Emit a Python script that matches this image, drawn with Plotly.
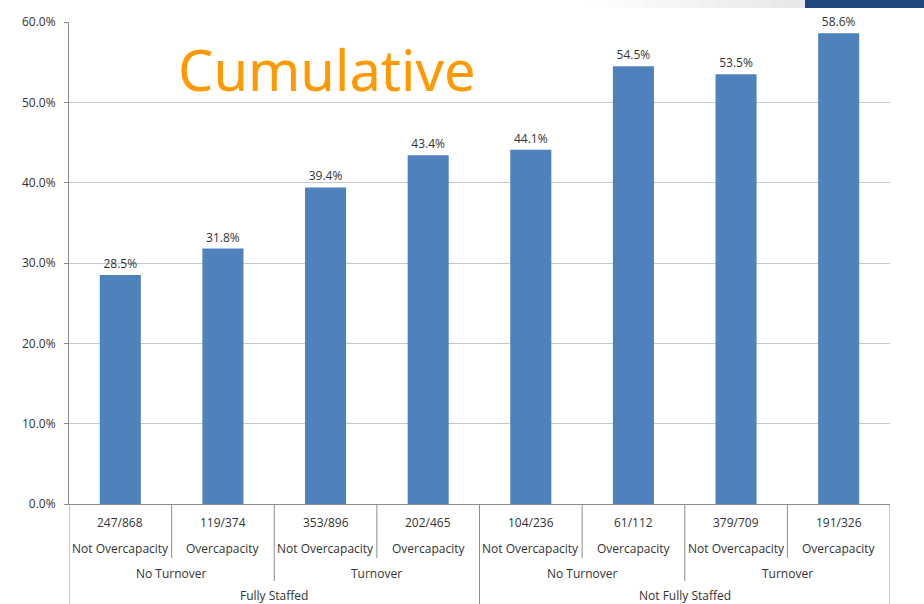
import plotly.graph_objects as go

# ---- data ----
values = [0.285, 0.318, 0.394, 0.434, 0.441, 0.545, 0.535, 0.586]
fractions = ["247/868", "119/374", "353/896", "202/465", "104/236", "61/112", "379/709", "191/326"]
capacity = ["Not Overcapacity", "Overcapacity"] * 4
turnover_groups = ["No Turnover", "Turnover", "No Turnover", "Turnover"]
staffing_groups = ["Fully Staffed", "Not Fully Staffed"]
title_text = "Cumulative"

# ---- layout constants (pixels of the 924x604 page) ----
W, H = 924, 604
L, R, T, B = 69, 34, 22, 100
plot_h = H - T - B
plot_w = W - L - R


def py(p):
    """page pixel y -> paper y"""
    return (H - B - p) / plot_h


def px(p):
    """page pixel x -> paper x"""
    return (p - L) / plot_w


FONT = "Open Sans, Liberation Sans, Arial"
TXT = "#333333"
AXIS = "#8c8c8c"
FS = 12

n = len(values)
xs = list(range(n))

fig = go.Figure()
fig.add_trace(go.Bar(
    x=xs, y=values, width=0.4,
    marker=dict(color="#4f81bd", line=dict(width=0)),
    text=[f"{v*100:.1f}%" for v in values],
    textposition="outside",
    textfont=dict(family=FONT, size=FS, color=TXT),
    cliponaxis=False,
    hoverinfo="skip",
))

shapes = []
ann = []

# dividers below axis
for k in range(n + 1):
    xb = k - 0.5
    if k % 4 == 0:
        bottom = H
    elif k % 2 == 0:
        bottom = 581
    else:
        bottom = 558
    shapes.append(dict(type="line", xref="x", yref="paper", x0=xb, x1=xb,
                       y0=0, y1=py(bottom), line=dict(color=AXIS, width=1)))

for i in range(n):
    ann.append(dict(x=i, y=py(522), xref="x", yref="paper", text=fractions[i],
                    showarrow=False, yanchor="middle",
                    font=dict(family=FONT, size=FS, color=TXT)))
    ann.append(dict(x=i, y=py(548), xref="x", yref="paper", text=capacity[i],
                    showarrow=False, yanchor="middle",
                    font=dict(family=FONT, size=FS, color=TXT)))
for j, t in enumerate(turnover_groups):
    ann.append(dict(x=2 * j + 0.5, y=py(573), xref="x", yref="paper", text=t,
                    showarrow=False, yanchor="middle",
                    font=dict(family=FONT, size=FS, color=TXT)))
for j, t in enumerate(staffing_groups):
    ann.append(dict(x=4 * j + 1.5, y=py(595), xref="x", yref="paper", text=t,
                    showarrow=False, yanchor="middle",
                    font=dict(family=FONT, size=FS, color=TXT)))

# title
ann.append(dict(x=px(327), y=py(69), xref="paper", yref="paper", text=title_text,
                showarrow=False, xanchor="center", yanchor="middle",
                font=dict(family="Noto Sans, Open Sans", size=56, color="#ff9900")))

# decoration at top right: gray fade band and dark blue block
steps = 12
x_start, x_end = 590, 805
for s in range(steps):
    g = int(255 - (255 - 232) * (s + 1) / steps)
    shapes.append(dict(type="rect", xref="paper", yref="paper",
                       x0=px(x_start + (x_end - x_start) * s / steps),
                       x1=px(x_start + (x_end - x_start) * (s + 1) / steps),
                       y0=py(8), y1=py(0), line=dict(width=0),
                       fillcolor=f"rgb({g},{g},{g})", layer="below"))
shapes.append(dict(type="rect", xref="paper", yref="paper",
                   x0=px(805), x1=px(W), y0=py(8), y1=py(0),
                   line=dict(width=0), fillcolor="#1f497d"))

fig.update_layout(
    width=W, height=H,
    margin=dict(l=L, r=R, t=T, b=B),
    paper_bgcolor="white", plot_bgcolor="white",
    showlegend=False,
    shapes=shapes, annotations=ann,
    xaxis=dict(range=[-0.5, n - 0.5], showticklabels=False, ticks="",
               showgrid=False, zeroline=False, showline=True,
               linecolor=AXIS, linewidth=1, fixedrange=True),
    yaxis=dict(range=[0, 0.6], dtick=0.1, tickformat=".1%",
               showgrid=True, gridcolor="#c8c8c8", gridwidth=1,
               zeroline=False, showline=True, linecolor=AXIS, linewidth=1,
               ticks="outside", ticklen=4, tickcolor=AXIS,
               ticklabelstandoff=6,
               tickfont=dict(family=FONT, size=FS, color=TXT),
               fixedrange=True),
    bargap=0.6,
)

fig.write_html("out.html")
